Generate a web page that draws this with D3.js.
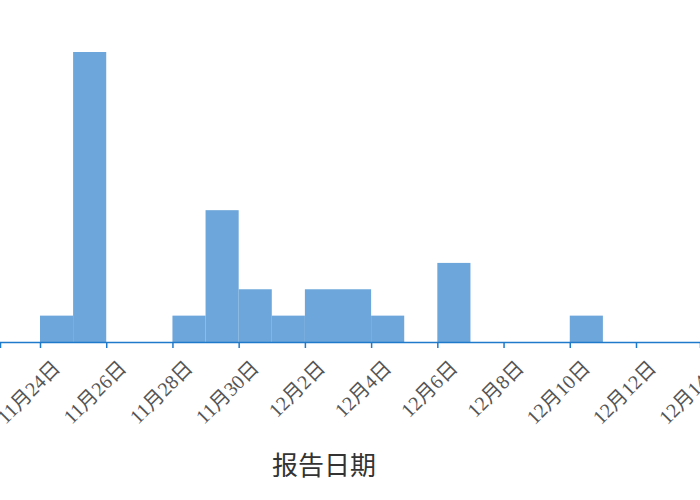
<!DOCTYPE html>
<html lang="zh">
<head>
<meta charset="UTF-8" />
<title>报告日期</title>
<script src="https://d3js.org/d3.v7.min.js"></script>
<style>
    body { margin: 0; background: #fff; }
    .tick text { font-family: "Liberation Serif", "Noto Sans CJK SC", serif; }
</style>
</head>
<body>
<div id="chart"></div>
<script>
    // Daily counts by report date
    var dates = ["2020-11-24", "2020-11-25", "2020-11-28", "2020-11-29", "2020-11-30",
                 "2020-12-01", "2020-12-02", "2020-12-03", "2020-12-04", "2020-12-06", "2020-12-10"];
    var counts = [1, 11, 1, 5, 2, 1, 2, 2, 1, 3, 1];
    var tickDates = ["2020-11-24", "2020-11-26", "2020-11-28", "2020-11-30", "2020-12-02", "2020-12-04",
                     "2020-12-06", "2020-12-08", "2020-12-10", "2020-12-12", "2020-12-14"];
    var axisTitle = "报告日期";

    var w = 700, h = 500;
    var axisY = 342;
    var parse = d3.timeParse("%Y-%m-%d");

    var svg = d3.select("#chart").append("svg")
        .attr("width", w)
        .attr("height", h);

    // Nov 24 sits at x=40, Dec 12 at x=636
    var x0 = d3.scaleTime()
        .domain([parse("2020-11-24"), parse("2020-12-12")])
        .range([40, 636]);
    var x = d3.scaleTime()
        .domain([x0.invert(0), x0.invert(w)])
        .range([0, w]);

    var y = d3.scaleLinear()
        .domain([0, 11])
        .range([axisY, 52]);

    var data = dates.map(function(d, i) { return { date: parse(d), value: counts[i] }; });

    svg.selectAll("rect.bar")
        .data(data)
        .enter()
        .append("rect")
        .attr("class", "bar")
        .attr("x", function(d) { return x(d.date); })
        .attr("y", function(d) { return y(d.value); })
        .attr("width", function(d) { return x(d3.timeDay.offset(d.date, 1)) - x(d.date); })
        .attr("height", function(d) { return axisY - y(d.value); })
        .attr("fill", "#6ca6da");

    var axis = d3.axisBottom(x)
        .tickValues(tickDates.map(parse))
        .tickFormat(d3.timeFormat("%-m月%-d日"))
        .tickSizeOuter(0)
        .tickSize(6);

    var gx = svg.append("g")
        .attr("transform", "translate(0," + axisY + ")")
        .call(axis);

    gx.select(".domain").attr("stroke", "#1f7acb").attr("stroke-width", 1.5);
    gx.selectAll(".tick line").attr("stroke", "#1f7acb").attr("stroke-width", 1.5);
    gx.selectAll(".tick text")
        .attr("fill", "#555")
        .style("font-size", "20px")
        .attr("text-anchor", "end")
        .attr("x", 21)
        .attr("y", 27)
        .attr("dy", 0)
        .attr("transform", "rotate(-45, 21, 27)");

    svg.append("text")
        .attr("x", 324)
        .attr("y", 475)
        .attr("text-anchor", "middle")
        .attr("fill", "#333")
        .style("font-family", "'Noto Sans CJK SC', sans-serif")
        .style("font-size", "26px")
        .text(axisTitle);
</script>
</body>
</html>
